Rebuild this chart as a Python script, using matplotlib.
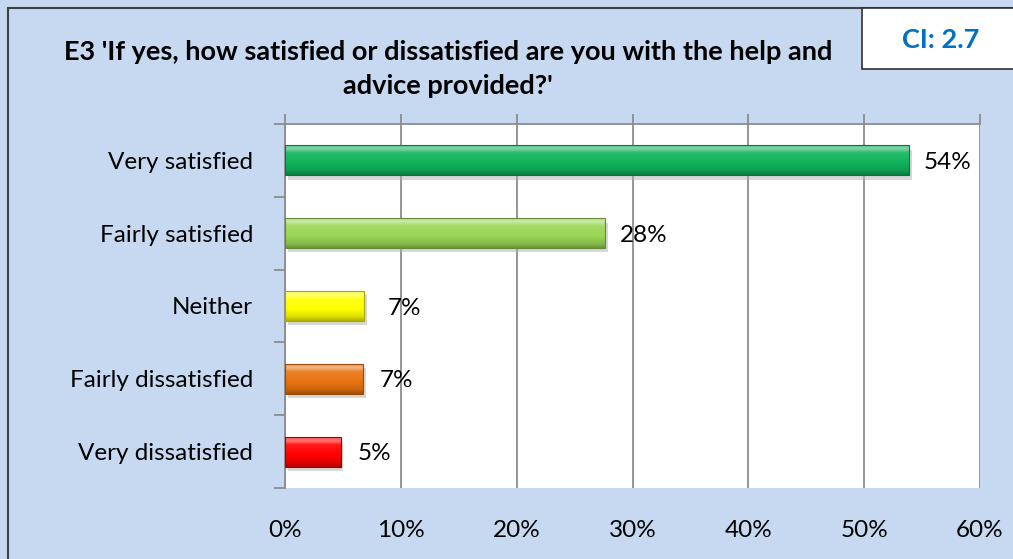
import matplotlib
matplotlib.use("Agg")
import matplotlib.pyplot as plt
import numpy as np
from matplotlib.patches import Rectangle
from matplotlib.colors import to_rgb

categories = ["Very satisfied", "Fairly satisfied", "Neither", "Fairly dissatisfied", "Very dissatisfied"]
values = [53.9, 27.6, 6.8, 6.7, 4.8]
value_labels = ["54%", "28%", "7%", "7%", "5%"]
bar_colors = ["#0fb35c", "#9ad655", "#ffff00", "#e8730f", "#ff0000"]
x_ticks = [0, 10, 20, 30, 40, 50, 60]
x_tick_labels = ["0%", "10%", "20%", "30%", "40%", "50%", "60%"]
title = "E3 'If yes, how satisfied or dissatisfied are you with the help and\nadvice provided?'"
ci_text = "CI: 2.7"

# label gap after bar end (in % units) - style only
label_gaps = [1.2, 1.3, 2.1, 1.45, 1.45]

FONT = "Lato"
bg = "#c6d9f1"
FS = 17.5

fig = plt.figure(figsize=(10.13, 5.59), dpi=100)
fig.patch.set_facecolor(bg)

# outer border
fig.add_artist(Rectangle((8/1013, -0.01), 1.02, 1 - 8/559 + 0.01, transform=fig.transFigure,
                         fill=False, edgecolor="#404040", linewidth=1.5))
# CI box
fig.add_artist(Rectangle((862/1013, 1 - 69/559), 0.2, 61/559, transform=fig.transFigure,
                         facecolor="white", edgecolor="#303030", linewidth=1.2))
fig.text(941/1013, 1 - 40/559, ci_text, ha="center", va="center",
         fontsize=19.5, fontweight="bold", color="#0070c0", family=FONT)

fig.text(448/1013, 1 - 69/559, title, ha="center", va="center", fontsize=19.5,
         fontweight="bold", family=FONT, linespacing=1.5)

ax = fig.add_axes([285/1013, 1 - 488/559, 695/1013, 364/559])
ax.set_facecolor("white")

ypos = np.arange(len(categories))
h = 0.41

def shade(c, f):
    r = np.array(to_rgb(c))
    if f > 0:
        return r + (1 - r) * f
    return r * (1 + f)

for i, (v, c) in enumerate(zip(values, bar_colors)):
    # shadow
    ax.barh(ypos[i] + 0.06, v, height=h, left=0.25, color="#b0b0b0", alpha=0.5, zorder=2, linewidth=0)
    # vertical gradient (bevel)
    n = 40
    t = np.linspace(0, 1, n)
    prof = np.interp(t, [0, 0.12, 0.25, 0.6, 0.85, 1.0], [0.35, 0.45, 0.1, 0.0, -0.12, -0.3])
    grad = np.array([shade(c, p) for p in prof]).clip(0, 1)
    grad = grad.reshape(n, 1, 3)
    ax.imshow(grad, extent=[0, v, ypos[i] + h / 2, ypos[i] - h / 2], aspect="auto",
              zorder=3, interpolation="bilinear")
    ax.barh(ypos[i], v, height=h, facecolor="none", edgecolor=shade(c, -0.35),
            linewidth=0.8, zorder=4)
    ax.text(v + label_gaps[i], ypos[i] + 0.03, value_labels[i], va="center", ha="left",
            fontsize=FS, family=FONT, zorder=5)

ax.set_xlim(0, 60)
ax.set_ylim(len(categories) - 0.5, -0.5)

ax.set_xticks(x_ticks)
ax.set_xticklabels(x_tick_labels, fontsize=FS, family=FONT)
ax.xaxis.grid(True, color="#8c8c8c", linewidth=1.3, zorder=1)
ax.set_axisbelow(True)
ax.tick_params(axis="x", which="both", bottom=False, top=True, length=7, color="#8c8c8c",
               width=1.3, pad=16, labelbottom=True)

ax.set_yticks(ypos)
ax.set_yticklabels(categories, fontsize=FS, family=FONT)
ax.tick_params(axis="y", which="major", length=0, pad=23)
ax.set_yticks(np.arange(-0.5, len(categories), 1), minor=True)
ax.tick_params(axis="y", which="minor", length=8, color="#8c8c8c", width=1.3)

for s in ["right", "bottom"]:
    ax.spines[s].set_visible(False)
ax.spines["left"].set_color("#8c8c8c")
ax.spines["left"].set_linewidth(1.3)
ax.spines["top"].set_color("#8c8c8c")
ax.spines["top"].set_linewidth(1.3)

fig.savefig("out.png", dpi=100, facecolor=bg)
